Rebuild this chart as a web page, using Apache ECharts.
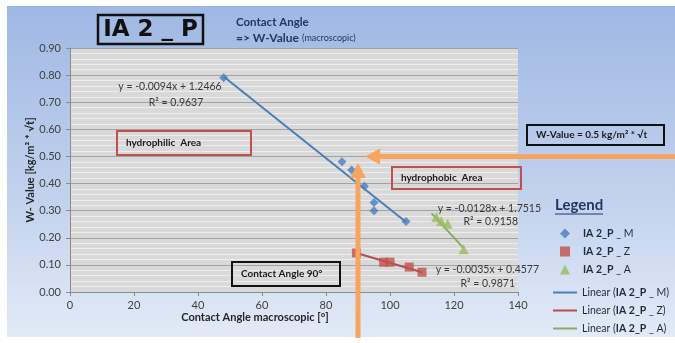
<!DOCTYPE html>
<html>
<head>
<meta charset="utf-8">
<script src="https://cdn.jsdelivr.net/npm/echarts@6/dist/echarts.min.js"></script>
<style>
  html, body { margin: 0; padding: 0; background: #fff; }
  #chart { width: 675px; height: 343px; }
</style>
</head>
<body>
<div id="chart"></div>
<script>
// IA 2_P _ M (blue diamonds)
const mAngle = [48, 85, 88, 92, 95, 95, 105]
const mWValue = [0.79, 0.48, 0.45, 0.39, 0.33, 0.30, 0.26]
// IA 2_P _ Z (red squares)
const zAngle = [89.5, 98, 100, 106, 110]
const zWValue = [0.144, 0.11, 0.11, 0.092, 0.073]
// IA 2_P _ A (green triangles)
const aAngle = [114.5, 116, 118, 123]
const aWValue = [0.277, 0.262, 0.252, 0.158]
// trend line end points as drawn
const mTrendAngle = [48, 105]
const mTrendValue = [0.795, 0.258]
const zTrendAngle = [89.5, 110]
const zTrendValue = [0.144, 0.073]
const aTrendAngle = [113, 123]
const aTrendValue = [0.29, 0.162]

const xTicks = [0, 20, 40, 60, 80, 100, 120, 140]
const yTicks = [0, 0.1, 0.2, 0.3, 0.4, 0.5, 0.6, 0.7, 0.8, 0.9]

const seriesNames = ['IA 2_P _ M', 'IA 2_P _ Z', 'IA 2_P _ A']
const trendNames = seriesNames.map(n => 'Linear (' + n + ')')
const colors = ['#4a7ebb', '#c0504d', '#9bbb59']
const lineColors = ['#4a7ebb', '#b0504d', '#8fa86a']

const FONT = 'Lato, "Open Sans", sans-serif'
const pair = (xs, ys) => xs.map((x, i) => [x, ys[i]])

const chart = echarts.init(document.getElementById('chart'))

const legendText = {
  fontSize: 10.5, color: '#1f2a3d', fontFamily: FONT,
  rich: { b: { fontWeight: 'bold', fontSize: 10.5, color: '#1f2a3d', fontFamily: FONT } }
}

const option = {
  backgroundColor: '#ffffff',
  animation: false,
  textStyle: { fontFamily: FONT },
  grid: {
    left: 70, top: 48, width: 448, height: 244,
    show: true, backgroundColor: '#d9d9d9', borderWidth: 0
  },
  xAxis: {
    type: 'value', min: xTicks[0], max: xTicks[xTicks.length - 1], interval: 20,
    axisLine: { show: true, onZero: false, lineStyle: { color: '#8c8c8c' } },
    axisTick: { show: true, length: 4, lineStyle: { color: '#8c8c8c' } },
    axisLabel: { color: '#404040', fontSize: 11, margin: 8, fontFamily: FONT },
    splitLine: { show: false },
    name: 'Contact Angle macroscopic [°]',
    nameLocation: 'middle', nameGap: 20, nameMoveOverlap: false,
    nameTextStyle: { fontWeight: 'bold', fontSize: 11, color: '#262626', padding: [0, 78, 0, 0], fontFamily: FONT }
  },
  yAxis: {
    type: 'value', min: yTicks[0], max: yTicks[yTicks.length - 1], interval: 0.1,
    axisLine: { show: true, lineStyle: { color: '#8c8c8c' } },
    axisTick: { show: true, length: 4, lineStyle: { color: '#8c8c8c' } },
    axisLabel: { color: '#404040', fontSize: 11, margin: 9, fontFamily: FONT,
      formatter: v => v.toFixed(2) },
    splitLine: { show: true, lineStyle: { color: '#a3a3a3', width: 1 } },
    minorTick: { show: false, splitNumber: 5 },
    minorSplitLine: { show: true, lineStyle: { color: '#ededed', width: 1 } },
    name: 'W- Value [kg/m² * √t]',
    nameLocation: 'middle', nameGap: 34, nameRotate: 90, nameMoveOverlap: false,
    nameTextStyle: { fontWeight: 'bold', fontSize: 11, color: '#262626', fontFamily: FONT }
  },
  legend: [
    {
      left: 555, top: 223, orient: 'vertical',
      itemWidth: 10, itemHeight: 10, itemGap: 7,
      textStyle: Object.assign({ padding: [0, 0, 0, 8] }, legendText),
      formatter: name => name.replace('IA 2_P', '{b|IA 2_P}'),
      data: seriesNames
    },
    {
      left: 548, top: 282, orient: 'vertical',
      itemWidth: 24, itemHeight: 2, itemGap: 7,
      textStyle: legendText,
      formatter: name => name.replace('IA 2_P', '{b|IA 2_P}'),
      data: trendNames.map(n => ({ name: n, icon: 'rect' }))
    }
  ],
  series: [
    { name: seriesNames[0], type: 'scatter', symbol: 'diamond', symbolSize: 9, z: 5,
      itemStyle: { color: colors[0] }, data: pair(mAngle, mWValue) },
    { name: seriesNames[1], type: 'scatter', symbol: 'rect', symbolSize: 9, z: 5,
      itemStyle: { color: colors[1] }, data: pair(zAngle, zWValue) },
    { name: seriesNames[2], type: 'scatter', symbol: 'triangle', symbolSize: 10, z: 5,
      itemStyle: { color: colors[2] }, data: pair(aAngle, aWValue) },
    { name: trendNames[0], type: 'line', symbol: 'none', z: 4,
      lineStyle: { color: lineColors[0], width: 2 }, itemStyle: { color: lineColors[0] },
      data: pair(mTrendAngle, mTrendValue) },
    { name: trendNames[1], type: 'line', symbol: 'none', z: 4,
      lineStyle: { color: lineColors[1], width: 2 }, itemStyle: { color: lineColors[1] },
      data: pair(zTrendAngle, zTrendValue) },
    { name: trendNames[2], type: 'line', symbol: 'none', z: 4,
      lineStyle: { color: lineColors[2], width: 2 }, itemStyle: { color: lineColors[2] },
      data: pair(aTrendAngle, aTrendValue) }
  ]
}
chart.setOption(option)

// annotations (boxes, equations, arrows)
const px = (x, y) => chart.convertToPixel({ gridIndex: 0 }, [x, y])
const ORANGE = '#f5a55f'
const hTip = px(92.2, 0.5)
const vTip = px(90, 0.476)

const boxText = (x, y, w, h, color, text) => ({
  type: 'group', z: 20,
  children: [
    { type: 'rect', shape: { x, y, width: w, height: h },
      style: { fill: 'transparent', stroke: color, lineWidth: 2 } },
    { type: 'text', x: x + 9, y: y + h / 2,
      style: { text, fontSize: 10, fontWeight: 'bold', fill: '#1a1a1a', fontFamily: FONT, verticalAlign: 'middle' } }
  ]
})
const eqText = (x, y, text, align) => ({
  type: 'text', x, y, z: 20,
  style: { text, fontSize: 10.5, fill: '#3a3a3a', fontFamily: FONT, align, verticalAlign: 'middle' }
})

chart.setOption({
  graphic: [
    // blue background panel
    { type: 'rect', z: -10, shape: { x: 7, y: 6, width: 668, height: 331 },
      style: { fill: new echarts.graphic.LinearGradient(0, 0, 0, 1, [
        { offset: 0, color: '#9fb8e3' }, { offset: 0.6, color: '#c3d3ee' }, { offset: 1, color: '#e2eaf6' }]) } },
    // title
    { type: 'rect', z: 20, shape: { x: 98, y: 15, width: 105, height: 29 },
      style: { fill: 'transparent', stroke: '#111', lineWidth: 2.5 } },
    { type: 'text', z: 20, x: 150.5, y: 30,
      style: { text: 'IA 2 _ P', fontSize: 23, fontWeight: 'bold', fill: '#111',
        fontFamily: '"DejaVu Sans", sans-serif', align: 'center', verticalAlign: 'middle' } },
    { type: 'text', z: 20, x: 236, y: 22,
      style: { text: 'Contact Angle', fontSize: 11.5, fontWeight: 'bold', fill: '#1f3864', fontFamily: FONT, verticalAlign: 'middle' } },
    { type: 'text', z: 20, x: 236, y: 38,
      style: { text: '{a|=> W-Value} {b|(macroscopic)}', fontFamily: FONT, verticalAlign: 'middle',
        rich: { a: { fontSize: 12, fontWeight: 'bold', fill: '#1f3864', fontFamily: FONT },
                b: { fontSize: 9, fill: '#1f3864', fontFamily: FONT } } } },
    // area boxes
    boxText(117, 131, 134, 24, '#c0504d', 'hydrophilic  Area'),
    boxText(392, 167, 129, 22, '#c0504d', 'hydrophobic  Area'),
    boxText(527, 125, 137, 20, '#111', 'W-Value = 0.5 kg/m² * √t'),
    boxText(232, 262, 108, 24, '#111', 'Contact Angle 90°'),
    // regression equations
    eqText(170, 87, 'y = -0.0094x + 1.2466', 'center'),
    eqText(176, 103, 'R² = 0.9637', 'center'),
    eqText(541, 209, 'y = -0.0128x + 1.7515', 'right'),
    eqText(518, 222, 'R² = 0.9158', 'right'),
    eqText(539, 270, 'y = -0.0035x + 0.4577', 'right'),
    eqText(515, 284, 'R² = 0.9871', 'right'),
    // legend heading
    { type: 'text', z: 20, x: 555, y: 205,
      style: { text: 'Legend', fontSize: 15, fontWeight: 'bold', fill: '#1f3864', fontFamily: FONT, verticalAlign: 'middle' } },
    { type: 'line', z: 20, shape: { x1: 555, y1: 214, x2: 603, y2: 214 },
      style: { stroke: '#1f3864', lineWidth: 1.2 } },
    // horizontal arrow at W = 0.5
    { type: 'line', z: 30, shape: { x1: 675, y1: hTip[1], x2: hTip[0] + 12, y2: hTip[1] },
      style: { stroke: ORANGE, lineWidth: 5 } },
    { type: 'polygon', z: 30, shape: { points: [[hTip[0], hTip[1]], [hTip[0] + 15, hTip[1] - 8], [hTip[0] + 15, hTip[1] + 8]] },
      style: { fill: ORANGE } },
    // vertical arrow at 90°
    { type: 'line', z: 30, shape: { x1: vTip[0], y1: 338, x2: vTip[0], y2: vTip[1] + 12 },
      style: { stroke: ORANGE, lineWidth: 5 } },
    { type: 'polygon', z: 30, shape: { points: [[vTip[0], vTip[1]], [vTip[0] - 8, vTip[1] + 15], [vTip[0] + 8, vTip[1] + 15]] },
      style: { fill: ORANGE } }
  ]
})
</script>
</body>
</html>
